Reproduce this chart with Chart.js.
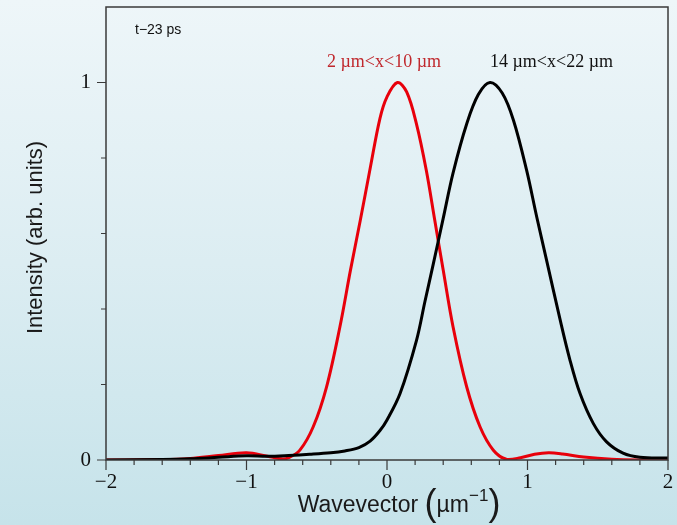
<!DOCTYPE html>
<html>
<head>
<meta charset="utf-8">
<script src="https://cdn.jsdelivr.net/npm/chart.js@4.4.1/dist/chart.umd.min.js"></script>
<style>
  html, body { margin: 0; padding: 0; }
  body {
    width: 677px; height: 525px; overflow: hidden;
    background: linear-gradient(to bottom, #eef6f9 0%, #dcedf2 50%, #c6e3ea 100%);
  }
  canvas { display: block; }
</style>
</head>
<body>
<canvas id="c" width="677" height="525"></canvas>
<script>
// Spectrum of the wave packet in the window 2 µm < x < 10 µm
const redK = [-2.0, -1.6, -1.4, -1.2, -1.0, -0.85, -0.75, -0.7, -0.62, -0.525, -0.43, -0.335,
  -0.26, -0.19, -0.12, -0.05, 0.0, 0.074, 0.14, 0.21, 0.28, 0.34, 0.40, 0.47, 0.567, 0.662,
  0.757, 0.85, 0.95, 1.05, 1.15, 1.25, 1.4, 1.6, 1.8, 2.0];
const redI = [0.0, 0.001, 0.004, 0.012, 0.019, 0.010, 0.003, 0.006, 0.026, 0.088, 0.194, 0.353,
  0.503, 0.635, 0.772, 0.905, 0.962, 1.0, 0.975, 0.89, 0.767, 0.635, 0.503, 0.353, 0.194, 0.088,
  0.026, 0.002, 0.006, 0.015, 0.019, 0.016, 0.008, 0.002, 0.0, 0.0];

// Spectrum of the wave packet in the window 14 µm < x < 22 µm
const blackK = [-2.0, -1.6, -1.4, -1.2, -1.0, -0.85, -0.7, -0.55, -0.4, -0.3, -0.2, -0.12,
  -0.05, 0.0, 0.093, 0.21, 0.27, 0.33, 0.40, 0.47, 0.567, 0.65, 0.733, 0.82, 0.90, 0.994,
  1.065, 1.136, 1.23, 1.30, 1.374, 1.468, 1.563, 1.68, 1.80, 1.99, 2.0];
const blackI = [0.0, 0.001, 0.003, 0.007, 0.011, 0.010, 0.012, 0.015, 0.019, 0.024, 0.033, 0.050,
  0.078, 0.106, 0.176, 0.317, 0.42, 0.520, 0.640, 0.760, 0.890, 0.968, 1.0, 0.972, 0.90, 0.767,
  0.645, 0.529, 0.375, 0.268, 0.176, 0.097, 0.048, 0.018, 0.007, 0.005, 0.005];

const xTickLabels = { '-2': '\u22122', '-1': '\u22121', '0': '0', '1': '1', '2': '2' };
const yTickLabels = { '0': '0', '1': '1' };

const toPoints = (xs, ys) => xs.map((x, i) => ({ x: x, y: ys[i] }));

const axisColor = '#3a3a3a';
const serif = '"Liberation Serif", "Times New Roman", serif';
const sans = '"Liberation Sans", Arial, sans-serif';

// Frame, tick marks, axis titles and in-plot annotations
const decorations = {
  id: 'decorations',
  afterDraw(chart) {
    const ctx = chart.ctx;
    const a = chart.chartArea;
    const xs = chart.scales.x, ys = chart.scales.y;
    ctx.save();
    ctx.strokeStyle = axisColor;
    ctx.lineWidth = 1.5;
    ctx.strokeRect(a.left, a.top, a.right - a.left, a.bottom - a.top);

    ctx.lineWidth = 1.2;
    ctx.beginPath();
    xs.ticks.forEach(t => {
      const px = xs.getPixelForValue(t.value);
      const major = Math.abs(t.value - Math.round(t.value)) < 1e-6;
      ctx.moveTo(px, a.bottom);
      ctx.lineTo(px, a.bottom + (major ? 10 : 5));
    });
    ys.ticks.forEach(t => {
      if (t.value > 1.01) return;
      const py = ys.getPixelForValue(t.value);
      const major = Math.abs(t.value - Math.round(t.value)) < 1e-6;
      ctx.moveTo(a.left, py);
      ctx.lineTo(a.left - (major ? 9 : 5), py);
    });
    ctx.stroke();

    // y axis title
    ctx.fillStyle = '#1a1a1a';
    ctx.font = '22px ' + sans;
    ctx.textAlign = 'center';
    ctx.textBaseline = 'middle';
    ctx.save();
    ctx.translate(36, (a.top + a.bottom) / 2 + 4);
    ctx.rotate(-Math.PI / 2);
    ctx.fillText('Intensity (arb. units)', 0, 0);
    ctx.restore();

    // x axis title: Wavevector (µm^-1)
    const parts = [
      { t: 'Wavevector ', f: '23px ' + sans, dy: 0 },
      { t: '(', f: '200 36px ' + sans, dy: 3 },
      { t: '\u00b5m', f: '23px ' + sans, dy: 0 },
      { t: '\u22121', f: '17px ' + sans, dy: -11 },
      { t: ')', f: '200 36px ' + sans, dy: 3 }
    ];
    let total = 0;
    parts.forEach(p => { ctx.font = p.f; p.w = ctx.measureText(p.t).width; total += p.w; });
    let cx = (a.left + a.right) / 2 - total / 2 + 12;
    const base = 512;
    ctx.textAlign = 'left';
    ctx.textBaseline = 'alphabetic';
    parts.forEach(p => { ctx.font = p.f; ctx.fillText(p.t, cx, base + p.dy); cx += p.w; });

    // annotations
    ctx.font = '14px ' + sans;
    ctx.fillStyle = '#111';
    ctx.fillText('t\u221223 ps', 135, 34);

    ctx.font = '18px ' + serif;
    ctx.fillStyle = '#c0282d';
    ctx.fillText('2 \u00b5m<x<10 \u00b5m', 327, 67);
    ctx.fillStyle = '#111';
    ctx.fillText('14 \u00b5m<x<22 \u00b5m', 490, 67);
    ctx.restore();
  }
};

new Chart(document.getElementById('c'), {
  type: 'line',
  data: {
    datasets: [
      {
        label: '14 \u00b5m<x<22 \u00b5m',
        data: toPoints(blackK, blackI),
        borderColor: '#000000',
        borderWidth: 3,
        pointRadius: 0,
        tension: 0.35,
        fill: false
      },
      {
        label: '2 \u00b5m<x<10 \u00b5m',
        data: toPoints(redK, redI),
        borderColor: '#e8000b',
        borderWidth: 3,
        pointRadius: 0,
        tension: 0.35,
        fill: false
      }
    ]
  },
  options: {
    responsive: false,
    animation: false,
    layout: { padding: { left: 0, right: 9, top: 7, bottom: 0 } },
    plugins: { legend: { display: false }, tooltip: { enabled: false } },
    scales: {
      x: {
        type: 'linear',
        min: -2, max: 2,
        afterFit: s => { s.height = 65; s.paddingRight = 0; s.paddingLeft = 0; },
        border: { display: false },
        grid: { display: true, drawOnChartArea: false, drawTicks: true, tickLength: 10, tickColor: 'rgba(0,0,0,0)' },
        ticks: {
          stepSize: 0.2, autoSkip: false, maxRotation: 0, padding: 0,
          color: '#111', font: { family: serif, size: 21 },
          callback: v => {
            const k = String(Math.round(v));
            return Math.abs(v - Math.round(v)) < 1e-6 ? xTickLabels[k] : '';
          }
        }
      },
      y: {
        min: 0, max: 1.2,
        afterFit: s => { s.width = 106; s.paddingTop = 0; s.paddingBottom = 0; },
        border: { display: false },
        grid: { display: true, drawOnChartArea: false, drawTicks: true, tickLength: 9, tickColor: 'rgba(0,0,0,0)' },
        ticks: {
          stepSize: 0.2, autoSkip: false, padding: 6,
          color: '#111', font: { family: serif, size: 21 },
          callback: v => {
            const k = String(Math.round(v));
            return Math.abs(v - Math.round(v)) < 1e-6 && v < 1.1 ? yTickLabels[k] : '';
          }
        }
      }
    }
  },
  plugins: [decorations]
});
</script>
</body>
</html>
